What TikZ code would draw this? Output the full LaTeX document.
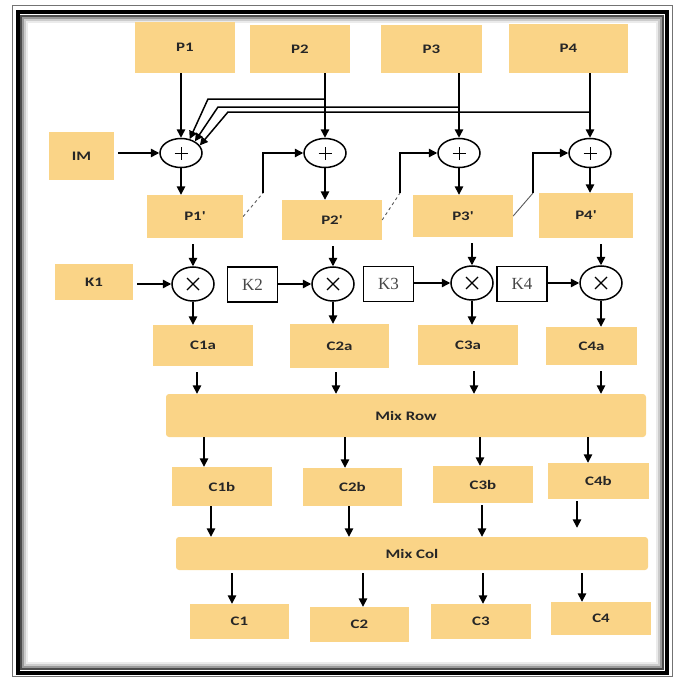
\documentclass[tikz,border=0pt]{standalone}
\usepackage{fontspec}
\newfontfamily\boxfont[FakeStretch=1.3]{Carlito}
\newfontfamily\kfont{Liberation Serif}
\usetikzlibrary{arrows.meta,shapes.geometric}
\definecolor{boxfill}{RGB}{250,212,135}
\definecolor{ktext}{RGB}{70,70,70}
\tikzset{
 obox/.style={fill=boxfill, inner sep=0pt, font=\boxfont\bfseries\fontsize{13}{15}\selectfont, text=black!85},
 kbox/.style={draw=black, line width=1.5pt, fill=white, inner sep=0pt, minimum width=50pt, minimum height=35pt, font=\kfont\fontsize{17}{19}\selectfont, text=ktext},
 opnode/.style={ellipse, draw=black, line width=1.5pt, fill=white, inner sep=0pt, minimum width=42pt},
 plusop/.style={opnode, minimum height=29pt, path picture={\draw[line width=1pt] ([xshift=-6.5pt]path picture bounding box.center) -- ([xshift=6.5pt]path picture bounding box.center) ([yshift=-6.5pt]path picture bounding box.center) -- ([yshift=6.5pt]path picture bounding box.center);}},
 timesop/.style={opnode, minimum height=34pt, path picture={\draw[line width=1.3pt] ([shift={(-6pt,-6pt)}]path picture bounding box.center) -- ([shift={(6pt,6pt)}]path picture bounding box.center) ([shift={(-6pt,6pt)}]path picture bounding box.center) -- ([shift={(6pt,-6pt)}]path picture bounding box.center);}},
 arr/.style={line width=1.5pt, -{Triangle[length=8.5pt,width=8.5pt]}},
 feed/.style={line width=1.5pt, -{Triangle[length=8pt,width=8pt]}},
 link/.style={line width=0.9pt, dashed, black!65},
 linksolid/.style={line width=0.9pt, black!65}
}
\begin{document}
\begin{tikzpicture}[x=1pt,y=-1pt]
\useasboundingbox (0,0) rectangle (680,677);
% frame
\draw[black!55, line width=0.8pt] (12,5) rectangle (672,676.5);
\draw[black!70, line width=2pt] (21,16) rectangle (663,669);
\draw[black!40, line width=2pt] (23,18) rectangle (661,667);
\draw[black!20, line width=2pt] (25,20) rectangle (659,665);
\draw[black!8, line width=2pt] (27,22) rectangle (657,663);
\draw[black, line width=4pt] (17.5,12.5) rectangle (666.5,672.5);

% top boxes
\node[obox, minimum width=100pt, minimum height=51pt] (P1) at (185,47.5) {P1};
\node[obox, minimum width=100pt, minimum height=48pt] (P2) at (300,49) {P2};
\node[obox, minimum width=101pt, minimum height=48pt] (P3) at (431.5,49) {P3};
\node[obox, minimum width=119pt, minimum height=49pt] (P4) at (568.5,48.5) {P4};
\node[obox, minimum width=65pt, minimum height=48pt] (IM) at (81.5,156) {IM};

% plus operators
\node[plusop] (A1) at (181,153) {};
\node[plusop] (A2) at (325,153) {};
\node[plusop] (A3) at (459,153) {};
\node[plusop] (A4) at (590,153) {};

% P' boxes
\node[obox, minimum width=96pt, minimum height=43pt] (P1p) at (195,216.5) {P1'};
\node[obox, minimum width=100pt, minimum height=40pt] (P2p) at (332,220) {P2'};
\node[obox, minimum width=100pt, minimum height=42pt] (P3p) at (463,216) {P3'};
\node[obox, minimum width=94pt, minimum height=45pt] (P4p) at (586,215.5) {P4'};

% key row
\node[obox, minimum width=78pt, minimum height=36pt] (K1) at (94,282) {K1};
\node[kbox] (K2) at (252.5,284.5) {K2};
\node[kbox] (K3) at (388.5,284) {K3};
\node[kbox] (K4) at (522,284) {K4};
\node[timesop] (M1) at (193,284) {};
\node[timesop] (M2) at (333,284) {};
\node[timesop] (M3) at (472,283) {};
\node[timesop] (M4) at (601,283) {};

% Ca boxes
\node[obox, minimum width=100pt, minimum height=41pt] (C1a) at (203,345.5) {C1a};
\node[obox, minimum width=99pt, minimum height=44pt] (C2a) at (339.5,346) {C2a};
\node[obox, minimum width=100pt, minimum height=40pt] (C3a) at (468,345) {C3a};
\node[obox, minimum width=91pt, minimum height=38pt] (C4a) at (591.5,346) {C4a};

\node[obox, rounded corners=3pt, minimum width=480pt, minimum height=43pt] (MR) at (406,415.5) {Mix Row};

% Cb boxes
\node[obox, minimum width=100pt, minimum height=39pt] (C1b) at (222,486.5) {C1b};
\node[obox, minimum width=99pt, minimum height=38pt] (C2b) at (352.5,487) {C2b};
\node[obox, minimum width=100pt, minimum height=37pt] (C3b) at (483,484.5) {C3b};
\node[obox, minimum width=101pt, minimum height=36pt] (C4b) at (598.5,481) {C4b};

\node[obox, rounded corners=3pt, minimum width=472pt, minimum height=33pt] (MC) at (412,553.5) {Mix Col};

% C boxes
\node[obox, minimum width=99pt, minimum height=35pt] (C1) at (239.5,621.5) {C1};
\node[obox, minimum width=99pt, minimum height=35pt] (C2) at (359.5,624.5) {C2};
\node[obox, minimum width=100pt, minimum height=35pt] (C3) at (481,621.5) {C3};
\node[obox, minimum width=100pt, minimum height=33pt] (C4) at (601,618.5) {C4};

% P -> plus
\draw[arr] (P1.south -| A1) -- (A1.north);
\draw[arr] (P2.south -| A2) -- (A2.north);
\draw[arr] (P3.south -| A3) -- (A3.north);
\draw[arr] (P4.south -| A4) -- (A4.north);
\draw[arr, shorten <=4pt] (IM.east |- A1) -- (A1.west);

% feedback lines into first adder
\coordinate (f2) at (325,99);
\coordinate (g2) at (208,99);
\coordinate (f3) at (459,107);
\coordinate (g3) at (218,107);
\coordinate (f4) at (590,112);
\coordinate (g4) at (228,112);
\draw[feed] (f2) -- (g2) -- (A1.58);
\draw[feed] (f3) -- (g3) -- (A1.40);
\draw[feed] (f4) -- (g4) -- (A1.22);

% plus -> P'
\draw[arr] (A1.south) -- (A1.south |- P1p.north);
\draw[arr] (A2.south) -- (A2.south |- P2p.north);
\draw[arr] (A3.south) -- (A3.south |- P3p.north);
\draw[arr] (A4.south) -- (A4.south |- P4p.north);

% chaining links
\coordinate (c1) at (263,193);
\coordinate (c2) at (400,193);
\coordinate (c3) at (533,193);
\draw[link] (P1p.east) -- (c1);
\draw[link] (P2p.east) -- (c2);
\draw[linksolid] (P3p.east) -- (c3);
\draw[arr, line width=1.3pt] (c1) |- (A2.west);
\draw[arr, line width=1.3pt] (c2) |- (A3.west);
\draw[arr, line width=1.3pt] (c3) |- (A4.west);

% P' -> times
\draw[arr, shorten <=6pt] (P1p.south -| M1) -- (M1.north);
\draw[arr, shorten <=6pt] (P2p.south -| M2) -- (M2.north);
\draw[arr, shorten <=6pt] (P3p.south -| M3) -- (M3.north);
\draw[arr, shorten <=6pt] (P4p.south -| M4) -- (M4.north);

% keys -> times
\draw[arr, shorten <=4pt] (K1.east |- M1) -- (M1.west);
\draw[arr] (K2.east |- M2) -- (M2.west);
\draw[arr] (K3.east |- M3) -- (M3.west);
\draw[arr] (K4.east |- M4) -- (M4.west);

% times -> Ca
\draw[arr] (M1.south) -- (M1.south |- C1a.north);
\draw[arr] (M2.south) -- (M2.south |- C2a.north);
\draw[arr] (M3.south) -- (M3.south |- C3a.north);
\draw[arr] (M4.south) -- (M4.south |- C4a.north);

% Ca -> Mix Row
\coordinate (a1) at ([xshift=-6pt]C1a.south);
\coordinate (a2) at ([xshift=-3.5pt]C2a.south);
\coordinate (a3) at ([xshift=6pt]C3a.south);
\coordinate (a4) at ([xshift=9.5pt]C4a.south);
\draw[arr, shorten <=6pt] (a1) -- (a1 |- MR.north);
\draw[arr, shorten <=4pt] (a2) -- (a2 |- MR.north);
\draw[arr, shorten <=6pt] (a3) -- (a3 |- MR.north);
\draw[arr, shorten <=6pt] (a4) -- (a4 |- MR.north);

% Mix Row -> Cb
\coordinate (b1) at ([xshift=-18pt]C1b.north);
\coordinate (b2) at ([xshift=-7.5pt]C2b.north);
\coordinate (b3) at ([xshift=-3pt]C3b.north);
\coordinate (b4) at ([xshift=-10.5pt]C4b.north);
\draw[arr] (b1 |- MR.south) -- (b1);
\draw[arr] (b2 |- MR.south) -- (b2);
\draw[arr] (b3 |- MR.south) -- (b3);
\draw[arr] (b4 |- MR.south) -- (b4);

% Cb -> Mix Col
\coordinate (d1) at ([xshift=-11pt]C1b.south);
\coordinate (d2) at ([xshift=-3.5pt]C2b.south);
\coordinate (d3) at ([xshift=-1pt]C3b.south);
\coordinate (d4) at ([xshift=-21.5pt]C4b.south);
\draw[arr] (d1) -- (d1 |- MC.north);
\draw[arr] (d2) -- (d2 |- MC.north);
\draw[arr, shorten <=2pt] (d3) -- (d3 |- MC.north);
\draw[arr, shorten <=2pt, shorten >=9pt] (d4) -- (d4 |- MC.north);

% Mix Col -> C
\coordinate (e1) at ([xshift=-7.5pt]C1.north);
\coordinate (e2) at ([xshift=3.5pt]C2.north);
\coordinate (e3) at ([xshift=2pt]C3.north);
\coordinate (e4) at ([xshift=-19pt]C4.north);
\draw[arr, shorten <=3pt] (e1 |- MC.south) -- (e1);
\draw[arr, shorten <=3pt] (e2 |- MC.south) -- (e2);
\draw[arr, shorten <=3pt] (e3 |- MC.south) -- (e3);
\draw[arr, shorten <=3pt] (e4 |- MC.south) -- (e4);
\end{tikzpicture}
\end{document}
